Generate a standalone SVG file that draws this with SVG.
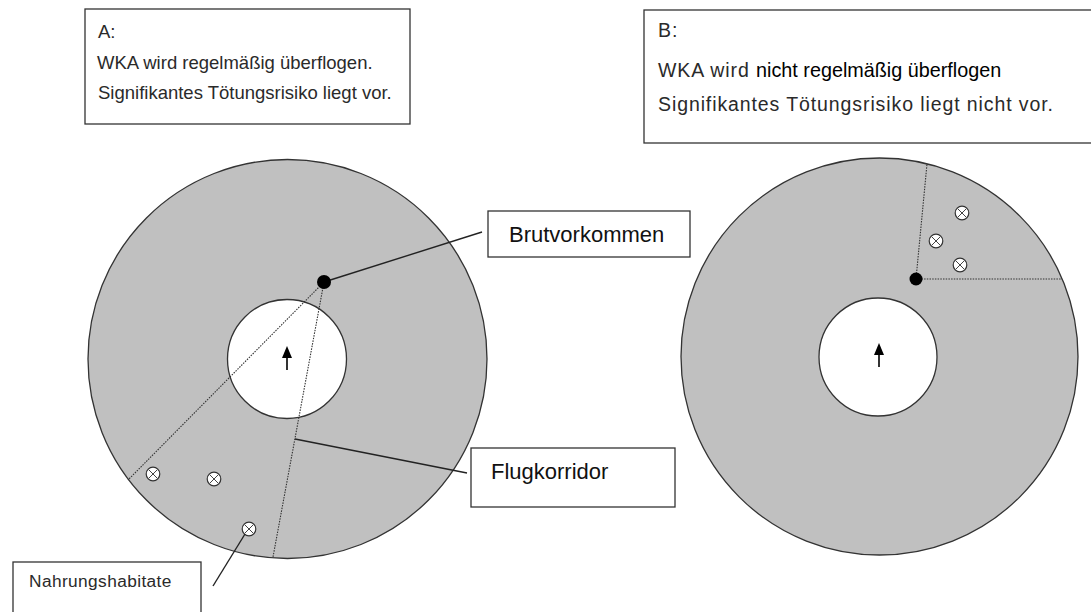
<svg xmlns="http://www.w3.org/2000/svg" width="1091" height="612" viewBox="0 0 1091 612">
<defs>
<style>
.box{fill:#fff;stroke:#333;stroke-width:1.3}
.light{font-family:"Liberation Sans",Arial,sans-serif;font-size:18.5px;fill:#2a2a2a}
.lightB{font-family:"Liberation Sans",Arial,sans-serif;font-size:19.5px;fill:#2a2a2a;letter-spacing:0.9px}
.dark{font-family:"Liberation Sans",Arial,sans-serif;font-size:19.8px;fill:#000;letter-spacing:0}
.lbl{font-family:"Liberation Sans",Arial,sans-serif;font-size:22px;fill:#111}
.small{font-family:"Liberation Sans",Arial,sans-serif;font-size:17.3px;fill:#2a2a2a;letter-spacing:0.4px}
.outer{fill:#c0c0c0;stroke:#333;stroke-width:1.3}
.inner{fill:#fff;stroke:#333;stroke-width:1.3}
.dot{fill:#000}
.dotted{fill:none;stroke:#333;stroke-width:1.1;stroke-dasharray:1.5 1.2}
.lead{fill:none;stroke:#222;stroke-width:1.4}
</style>
<g id="cross">
<circle cx="0" cy="0" r="6.8" fill="#fff" stroke="#333" stroke-width="1.2"/>
<path d="M-4.5-4.5L4.5 4.5M4.5-4.5L-4.5 4.5" stroke="#444" stroke-width="1"/>
</g>
<g id="arrow">
<path d="M0 0V-13" stroke="#000" stroke-width="1.6"/>
<polygon points="0,-24 -5,-12 5,-12" fill="#000"/>
</g>
</defs>
<rect width="1091" height="612" fill="#fff"/>

<g id="boxA">
<rect class="box" x="85" y="9" width="325" height="115"/>
<text class="light" x="98" y="38">A:</text>
<text class="light" x="97" y="69">WKA wird regelmäßig überflogen.</text>
<text class="light" x="98" y="99">Signifikantes Tötungsrisiko liegt vor.</text>
</g>

<g id="boxB">
<rect class="box" x="644" y="10" width="460" height="133"/>
<text class="lightB" x="658" y="37">B:</text>
<text x="658" y="77"><tspan class="lightB">WKA wird </tspan><tspan class="dark">nicht regelmäßig überflogen</tspan></text>
<text class="lightB" x="658" y="111">Signifikantes Tötungsrisiko liegt nicht vor.</text>
</g>

<g id="circleA">
<circle class="outer" cx="287.5" cy="359" r="199.5"/>
<circle class="inner" cx="287" cy="359" r="59.5"/>
<use href="#arrow" x="287" y="370"/>
<use href="#cross" x="153" y="474"/>
<use href="#cross" x="214" y="479"/>
<use href="#cross" x="249" y="529"/>
</g>

<g id="circleB">
<circle class="outer" cx="879.5" cy="356.5" r="198.5"/>
<circle class="inner" cx="878" cy="357" r="59"/>
<use href="#arrow" x="879" y="367"/>
<use href="#cross" x="962" y="213"/>
<use href="#cross" x="936" y="241"/>
<use href="#cross" x="960" y="265"/>
</g>

<g id="connectors">
<path class="dotted" d="M324 282L128 480"/>
<path class="dotted" d="M324 282L273 557"/>
<path class="dotted" d="M916 279L927 164"/>
<path class="dotted" d="M916 279L1062 279"/>
<path class="lead" d="M324 282L482 232"/>
<path class="lead" d="M295 439L467 473"/>
<path class="lead" d="M245 534L213 586"/>
</g>

<g id="dots">
<circle class="dot" cx="324" cy="282" r="7"/>
<circle class="dot" cx="916" cy="279" r="6.5"/>
</g>

<g id="labelBrut">
<rect class="box" x="488" y="211" width="202" height="46"/>
<text class="lbl" x="509" y="242">Brutvorkommen</text>
</g>

<g id="labelFlug">
<rect class="box" x="471" y="448" width="204" height="59"/>
<text class="lbl" x="491" y="479">Flugkorridor</text>
</g>

<g id="labelNahrung">
<rect class="box" x="13" y="562" width="188" height="70"/>
<text class="small" x="29" y="587">Nahrungshabitate</text>
</g>
</svg>
